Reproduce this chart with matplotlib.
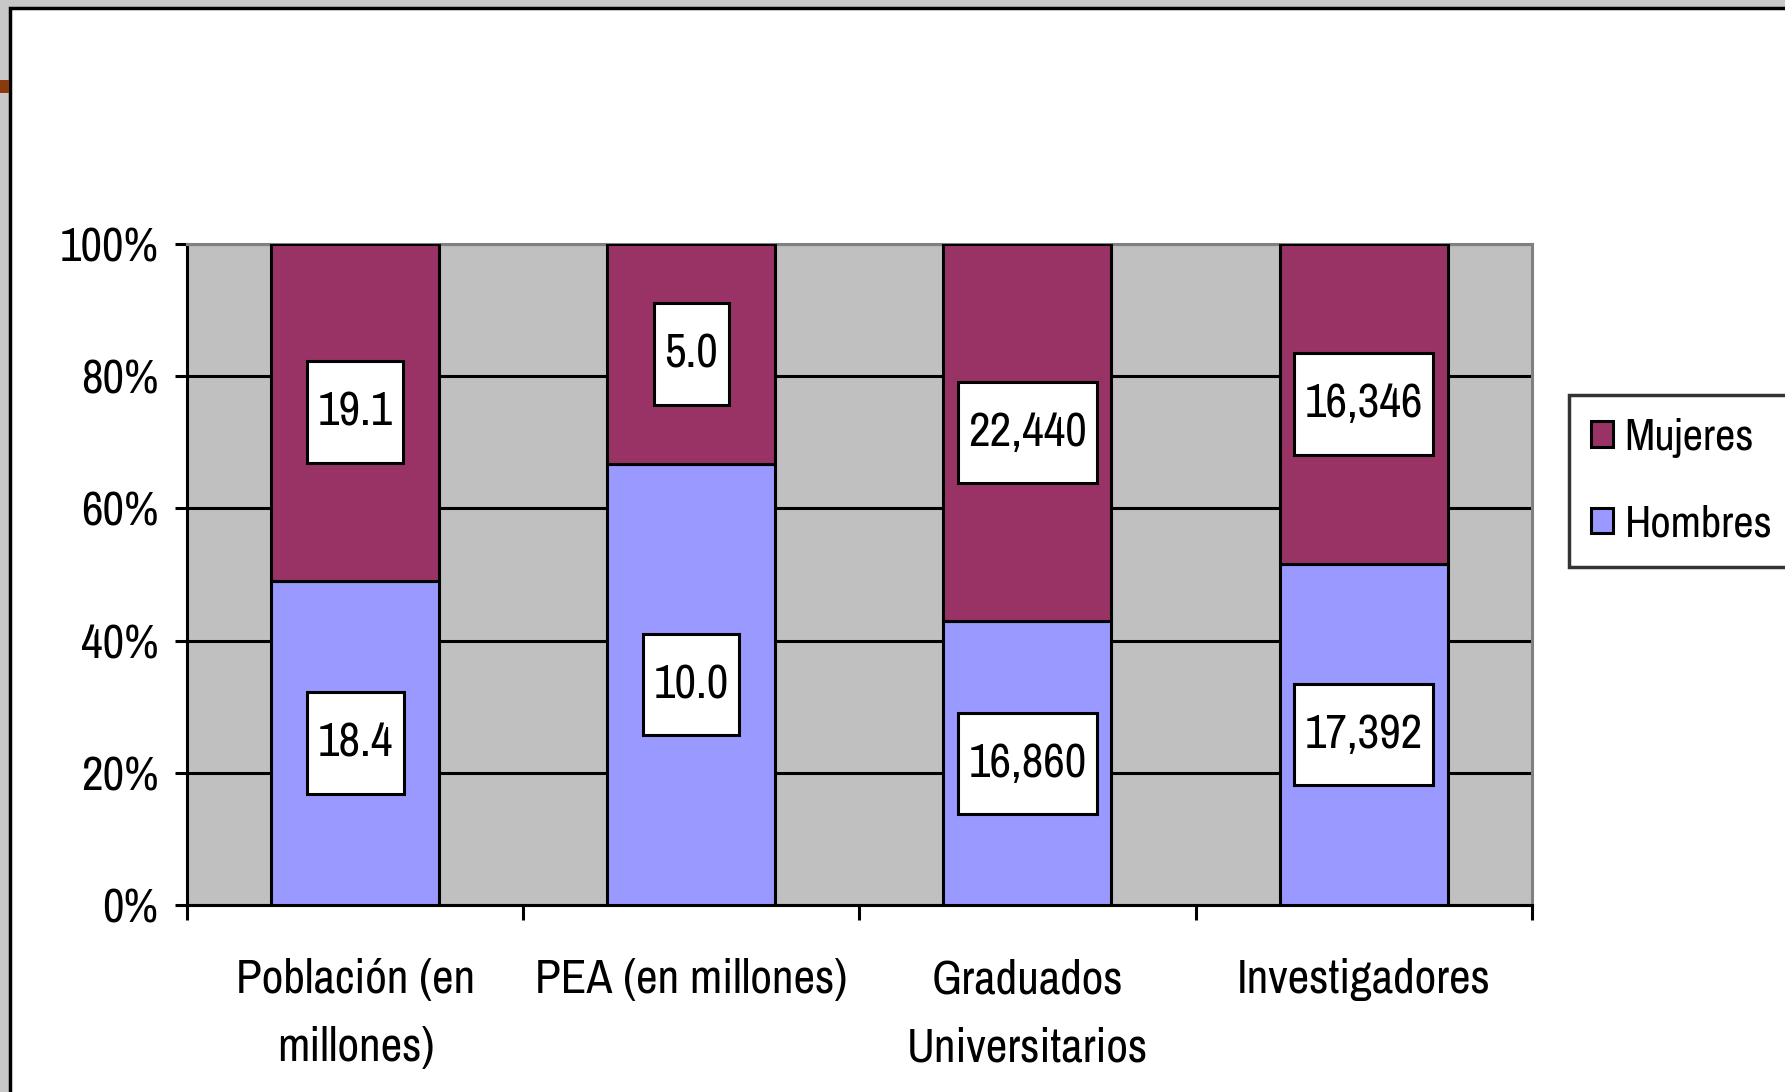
import numpy as np
import matplotlib
matplotlib.use("Agg")
import matplotlib.pyplot as plt
from matplotlib.patches import Patch, Rectangle
from matplotlib.path import Path

plt.rcParams['font.family'] = ['Archivo Narrow', 'Liberation Sans', 'DejaVu Sans']

# datos
categorias = ["Población (en\nmillones)", "PEA (en millones)", "Graduados\nUniversitarios", "Investigadores"]
hombres = [18.4, 10.0, 16860, 17392]
mujeres = [19.1, 5.0, 22440, 16346]
decimales = [1, 1, 0, 0]

COL_MUJ = "#993366"
COL_HOM = "#9999FF"
FS = 34


def caja(x0, y0, width, height, mutation_size):
    # rectangle with more padding on top/bottom than on the sides
    px = 0.22 * mutation_size
    py = 0.62 * mutation_size
    x0, y0 = x0 - px, y0 - py
    x1, y1 = x0 + width + 2 * px, y0 + height + 2 * py
    return Path([(x0, y0), (x1, y0), (x1, y1), (x0, y1), (x0, y0)], closed=True)


def fmt(v, d):
    return f"{v:,.{d}f}"


hom = np.array(hombres, dtype=float)
muj = np.array(mujeres, dtype=float)
tot = hom + muj
p_hom = hom / tot
p_muj = muj / tot
x = np.arange(len(categorias))

fig = plt.figure(figsize=(17.85, 10.92), dpi=100)
fig.patch.set_facecolor("#C8C8C8")
# white slide area with black frame
fig.patches.append(Rectangle((10 / 1785, -0.05), 1.1, 1 - 8 / 1092 + 0.05, transform=fig.transFigure,
                             facecolor="white", edgecolor="black", linewidth=2.5, zorder=-2))
fig.patches.append(Rectangle((0, 1 - 93 / 1092), 9 / 1785, 13 / 1092, transform=fig.transFigure,
                             facecolor="#8B3A0E", edgecolor="none", zorder=-1))

ax = fig.add_axes([0.105, 0.171, 0.753, 0.606])
ax.set_facecolor("#C0C0C0")

ax.bar(x, p_hom, width=0.5, color=COL_HOM, edgecolor="black", linewidth=2.2, zorder=3)
ax.bar(x, p_muj, width=0.5, bottom=p_hom, color=COL_MUJ, edgecolor="black", linewidth=2.2, zorder=3)

for i in range(len(x)):
    for yc, v in [(p_hom[i] / 2, hom[i]), (p_hom[i] + p_muj[i] / 2, muj[i])]:
        ax.text(x[i], yc, fmt(v, decimales[i]), ha="center", va="center", fontsize=FS, zorder=5,
                bbox=dict(boxstyle=caja, facecolor="white", edgecolor="black", linewidth=2.2))

ax.set_xlim(-0.5, 3.5)
ax.set_ylim(0, 1)
ax.set_yticks(np.arange(0, 1.01, 0.2))
ax.set_yticklabels([f"{int(round(t * 100))}%" for t in np.arange(0, 1.01, 0.2)], fontsize=FS)
ax.tick_params(axis="y", length=9, width=2.2, pad=12, colors="black")
ax.set_xticks(np.arange(-0.5, 3.6, 1))
ax.set_xticklabels([])
ax.set_xticks(x, minor=True)
ax.set_xticklabels(categorias, minor=True, fontsize=FS, linespacing=1.72)
ax.tick_params(axis="x", which="major", length=11, width=2.2, direction="out")
ax.tick_params(axis="x", which="minor", length=0, pad=38)

ax.yaxis.grid(True, color="black", linewidth=2.2, zorder=1)
ax.set_axisbelow(True)
for s in ["left", "bottom"]:
    ax.spines[s].set_color("black")
    ax.spines[s].set_linewidth(2.2)
for s in ["top", "right"]:
    ax.spines[s].set_color("#808080")
    ax.spines[s].set_linewidth(2.2)

handles = [Patch(facecolor=COL_MUJ, edgecolor="black", linewidth=2.2),
           Patch(facecolor=COL_HOM, edgecolor="black", linewidth=2.2)]
leg = fig.legend(handles, ["Mujeres", "Hombres"], loc="center left", bbox_to_anchor=(0.879, 0.5595),
                 fontsize=32, fancybox=False, frameon=True, handlelength=0.5, handleheight=0.5,
                 handletextpad=0.25, labelspacing=1.05, borderpad=0.5, borderaxespad=0)
leg.get_frame().set_edgecolor("black")
leg.get_frame().set_linewidth(2.5)

fig.savefig("out.png", dpi=100, facecolor=fig.get_facecolor())
